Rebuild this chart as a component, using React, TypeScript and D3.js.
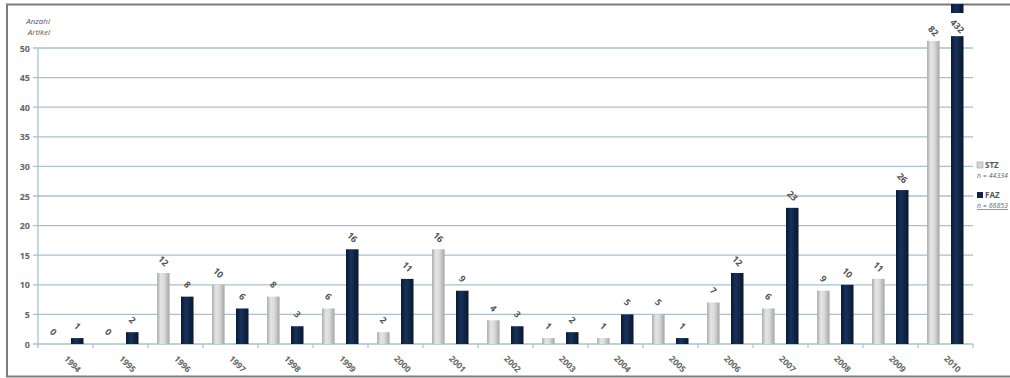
import React from "react";
import * as d3 from "d3";

const years = ["1994","1995","1996","1997","1998","1999","2000","2001","2002","2003","2004","2005","2006","2007","2008","2009","2010"];
const stz = [0,0,12,10,8,6,2,16,4,1,1,5,7,6,9,11,82];
const faz = [1,2,8,6,3,16,11,9,3,2,5,1,12,23,10,26,432];
const yTicks = [0,5,10,15,20,25,30,35,40,45,50];
const legendItems = [
  { name: "STZ", n: "n = 44334" },
  { name: "FAZ", n: "n = 66853" },
];

const W = 1010, H = 378;
const x0 = 38, bandW = 55;
const yMax = 50;

export default function App() {
  const x = d3.scaleBand<string>().domain(years).range([x0, x0 + bandW * years.length]).paddingInner(0).paddingOuter(0);
  const y = d3.scaleLinear().domain([0, yMax]).range([344, 48]);
  const bw = x.bandwidth();
  const barW = 12.5;
  const stzOff = bw * 0.165;
  const fazOff = bw * 0.6;
  const font = "'Open Sans', 'Liberation Sans', sans-serif";
  const series = [
    { key: "STZ", data: stz, off: stzOff, fill: "url(#gStz)", cap: 51.2 },
    { key: "FAZ", data: faz, off: fazOff, fill: "url(#gFaz)", cap: 52 },
  ];
  const xr = x0 + bandW * years.length;
  return (
    <svg width={W} height={H} style={{ position: "absolute", left: 0, top: 0, background: "#fff" }} fontFamily={font}>
      <defs>
        <linearGradient id="gStz" x1="0" x2="1" y1="0" y2="0">
          <stop offset="0" stopColor="#a9a9a9" />
          <stop offset="0.3" stopColor="#e6e6e6" />
          <stop offset="0.6" stopColor="#d8d8d8" />
          <stop offset="1" stopColor="#a5a5a5" />
        </linearGradient>
        <linearGradient id="gFaz" x1="0" x2="1" y1="0" y2="0">
          <stop offset="0" stopColor="#0a1a33" />
          <stop offset="0.4" stopColor="#17325a" />
          <stop offset="1" stopColor="#08172e" />
        </linearGradient>
      </defs>
      {/* frame */}
      <line x1={6} x2={W} y1={4.5} y2={4.5} stroke="#7d7d7d" strokeWidth={2} />
      <line x1={7} x2={7} y1={4} y2={377} stroke="#7d7d7d" strokeWidth={2} />
      <line x1={6} x2={W} y1={376.5} y2={376.5} stroke="#7d7d7d" strokeWidth={2} />
      {/* gridlines */}
      {yTicks.map((t) => (
        <g key={t}>
          <line x1={x0 - 5} x2={xr} y1={y(t)} y2={y(t)} stroke="#a7c0d2" strokeWidth={1.3} />
          <text x={30} y={y(t) + 3.5} textAnchor="end" fontSize={9} fontWeight={700} fill="#666">{t}</text>
        </g>
      ))}
      <line x1={x0} x2={x0} y1={y(yMax)} y2={y(0) + 4} stroke="#a7c0d2" strokeWidth={1.3} />
      {years.map((yr, i) => (
        <line key={"tk" + yr} x1={x0 + bandW * (i + 1)} x2={x0 + bandW * (i + 1)} y1={y(0)} y2={y(0) + 4} stroke="#a7c0d2" strokeWidth={1.2} />
      ))}
      <text x={50} y={24} textAnchor="end" fontSize={8} fontStyle="italic" fill="#555">Anzahl</text>
      <text x={50} y={35} textAnchor="end" fontSize={8} fontStyle="italic" fill="#555">Artikel</text>
      {/* bars */}
      {series.map((s) =>
        s.data.map((v, i) => {
          const cx = (x(years[i]) as number) + s.off + barW / 2;
          const over = v > yMax;
          const top = y(over ? s.cap : v);
          const h = y(0) - top;
          const labelY = over ? top - 10 : top - 12;
          return (
            <g key={s.key + i}>
              {h > 0 && <rect x={cx - barW / 2} y={top} width={barW} height={h} fill={s.fill} />}
              {over && s.key === "FAZ" && (
                <rect x={cx - barW / 2} y={4} width={barW} height={9} fill={s.fill} />
              )}
              <text
                transform={`translate(${cx},${labelY}) rotate(45)`}
                textAnchor="middle"
                dy="0.35em"
                fontSize={9}
                fontWeight={700}
                fill="#555"
              >
                {v}
              </text>
            </g>
          );
        })
      )}
      {/* x labels */}
      {years.map((yr) => (
        <text
          key={"xl" + yr}
          transform={`translate(${(x(yr) as number) + bw / 2 + 7},${364}) rotate(45)`}
          textAnchor="middle"
          dy="0.35em"
          fontSize={8.5}
          fontWeight={700}
          fill="#666"
        >
          {yr}
        </text>
      ))}
      {/* legend */}
      {legendItems.map((it, i) => (
        <g key={it.name} transform={`translate(977,${162 + i * 30})`}>
          <rect x={0} y={0} width={6} height={6} fill={i === 0 ? "#d6d6d6" : "#0d2446"} stroke={i === 0 ? "#999" : "none"} strokeWidth={0.6} />
          <text x={8} y={6} fontSize={8} fontWeight={700} fill="#555">{it.name}</text>
          <text x={0} y={16} fontSize={7} fontStyle="italic" fill="#666" textDecoration={i === 1 ? "underline" : "none"}>{it.n}</text>
        </g>
      ))}
    </svg>
  );
}
